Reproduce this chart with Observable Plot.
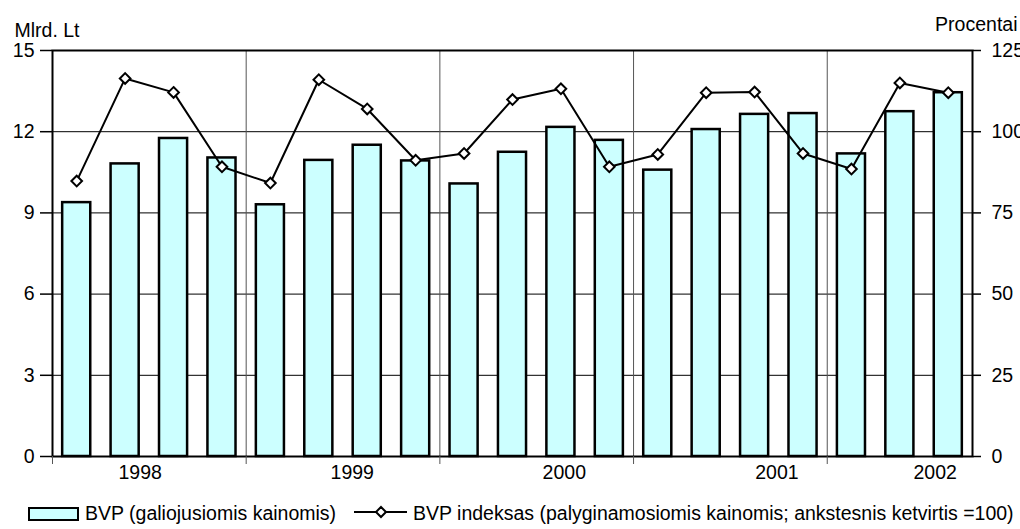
<!DOCTYPE html>
<html><head><meta charset="utf-8">
<script src="https://cdn.jsdelivr.net/npm/d3@7"></script>
<script src="https://cdn.jsdelivr.net/npm/@observablehq/plot@0.6"></script>
<style>
body{margin:0;background:#fff;font-family:"Liberation Sans",Arial,sans-serif;color:#000;}
#legend{position:relative;width:1020px;height:39px;font-size:19.5px;line-height:20px;}
#legend .sw1{position:absolute;left:28px;top:17px;width:51px;height:14px;box-sizing:border-box;border:2px solid #000;background:#CCFFFF;}
#legend .t1{position:absolute;left:85px;top:13px;white-space:nowrap;}
#legend .sw2{position:absolute;left:354px;top:14px;}
#legend .t2{position:absolute;left:413px;top:13px;white-space:nowrap;}
</style></head><body>
<div id="chart"></div>
<div id="legend"><div class="sw1"></div><span class="t1"></span><svg class="sw2" width="53" height="16"><line x1="0" x2="53" y1="8" y2="8" stroke="#000" stroke-width="2"/><path d="M27,3L32,8L27,13L22,8Z" fill="#fff" stroke="#000" stroke-width="2"/></svg><span class="t2"></span></div>
<script>
// ---- data ----
const years = ["1998", "1999", "2000", "2001", "2002"];
const quartersPerYear = [4, 4, 4, 4, 3];
const gdp = [9.38, 10.81, 11.75, 11.03, 9.30, 10.94, 11.50, 10.92, 10.07, 11.24, 12.16, 11.68, 10.58, 12.08, 12.64, 12.67, 11.18, 12.74, 13.44];
const gdpIndex = [84.8, 116.4, 112.1, 89.2, 84.2, 116.0, 107.0, 91.2, 93.3, 109.9, 113.2, 89.2, 93.0, 112.0, 112.2, 93.3, 88.5, 115.0, 112.0];
const leftTicks = [0, 3, 6, 9, 12, 15];
const rightTicks = [0, 25, 50, 75, 100, 125];
const seriesNames = ["BVP (galiojusiomis kainomis)", "BVP indeksas (palyginamosiomis kainomis; ankstesnis ketvirtis =100)"];
const axisTitles = ["Mlrd. Lt", "Procentai"];

// ---- layout helpers ----
const ratio = leftTicks[leftTicks.length - 1] / rightTicks[rightTicks.length - 1];
const labelShift = [-0.19, 0.19, 0.57, 0.96, 0.73]; // label drift seen in the original
const rows = gdp.map((v, i) => ({i, v, idx: gdpIndex[i] * ratio}));
const starts = d3.cumsum([0, ...quartersPerYear.slice(0, -1)]);
const yearRows = years.map((y, k) => ({year: y, pos: starts[k] + quartersPerYear[k] / 2 + labelShift[k]}));
const nQ = gdp.length;

const chart = Plot.plot({
  width: 1020, height: 490,
  marginLeft: 52, marginRight: 48, marginTop: 50, marginBottom: 34,
  style: {fontFamily: "'Liberation Sans', Arial, sans-serif", fontSize: "19.5px", color: "#000", background: "#fff"},
  x: {domain: [0, nQ], axis: null},
  y: {domain: [leftTicks[0], leftTicks[leftTicks.length - 1]], axis: null},
  marks: [
    Plot.ruleY(leftTicks.slice(1, -1), {stroke: "#000", strokeWidth: 1}),
    Plot.ruleX(starts.slice(1), {stroke: "#555", strokeWidth: 1}),
    Plot.rectY(rows, {x1: d => d.i + 0.21, x2: d => d.i + 0.79, y: "v", fill: "#CCFFFF", stroke: "#000", strokeWidth: 2.5}),
    Plot.line(rows, {x: d => d.i + 0.5, y: "idx", stroke: "#000", strokeWidth: 2}),
    Plot.dot(rows, {x: d => d.i + 0.5, y: "idx", symbol: "diamond2", r: 4.8, fill: "#fff", stroke: "#000", strokeWidth: 2}),
    Plot.frame({stroke: "#000", strokeWidth: 2}),
    Plot.axisY(leftTicks, {anchor: "left", tickSize: 12, tickPadding: 6, label: null, stroke: "#000", strokeWidth: 1.5}),
    Plot.axisY(leftTicks, {anchor: "right", tickSize: 8, tickPadding: 11, label: null, stroke: "#000", strokeWidth: 1.5,
      tickFormat: d => String(rightTicks[leftTicks.indexOf(d)])}),
    Plot.axisX(starts, {anchor: "bottom", tickSize: 8, tickFormat: () => "", label: null, stroke: "#555", strokeWidth: 1}),
    Plot.text(yearRows, {x: "pos", y: 0, text: "year", dy: 9, lineAnchor: "top", textAnchor: "middle", fill: "#000"}),
    Plot.text([axisTitles[0]], {frameAnchor: "top-left", dx: -38, dy: -14, textAnchor: "start", lineAnchor: "bottom", fill: "#000"}),
    Plot.text([axisTitles[1]], {frameAnchor: "top-right", dx: 45, dy: -20, textAnchor: "end", lineAnchor: "bottom", fill: "#000"})
  ]
});
document.getElementById("chart").appendChild(chart);
document.querySelector("#legend .t1").textContent = seriesNames[0];
document.querySelector("#legend .t2").textContent = seriesNames[1];
</script>
</body></html>
